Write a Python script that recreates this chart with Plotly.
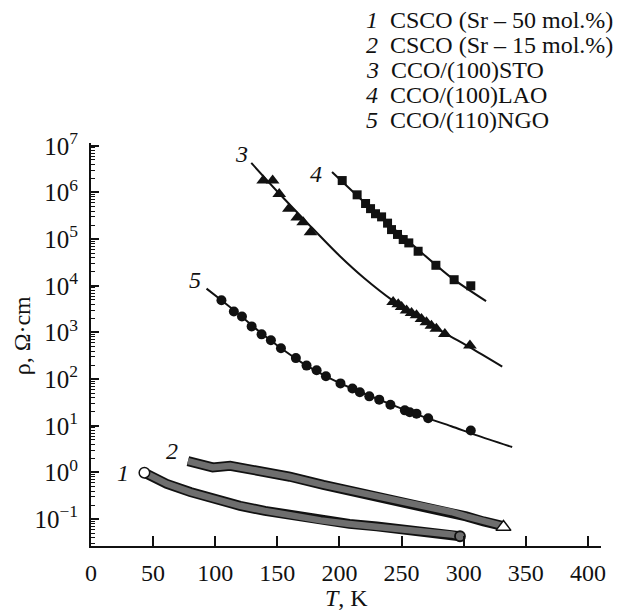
import math
import plotly.graph_objects as go

# ---------------- data ----------------
# 1: CSCO (Sr - 50 mol.%)  (dense open circles -> thick band)
T1 = [43, 61, 80, 100, 120, 140, 160, 185, 208, 230, 250, 270, 290, 297]
rho1 = [0.99, 0.57, 0.38, 0.26, 0.193, 0.15, 0.12, 0.094, 0.079, 0.070, 0.062, 0.054, 0.047, 0.043]

# 2: CSCO (Sr - 15 mol.%)  (dense open triangles -> thick band)
T2 = [78, 98, 112, 133, 160, 187, 208, 230, 250, 270, 290, 302, 316, 332]
rho2 = [1.75, 1.28, 1.39, 1.12, 0.81, 0.54, 0.41, 0.31, 0.25, 0.196, 0.142, 0.114, 0.089, 0.071]

# 3: CCO/(100)STO  (filled triangles) + fitted curve
T3 = [138.6, 146.2, 151.5, 159.3, 166, 170.8, 176.7, 243.2, 247.3, 250, 254, 258, 262, 266, 270, 274, 278, 284.8, 305]
rho3 = [1.8e6, 1.8e6, 9.3e5, 4.5e5, 2.9e5, 2.3e5, 1.4e5, 4500, 4000, 3500, 2950, 2600, 2350, 1950, 1650, 1400, 1200, 930, 525]
T3_fit = [129, 150, 175, 200, 220, 243, 265, 285, 305, 331]
rho3_fit = [4.3e6, 1.05e6, 2.1e5, 4.4e4, 1.45e4, 4800, 2000, 955, 480, 186]

# 4: CCO/(100)LAO  (filled squares) + fitted curve
T4 = [202.2, 214.2, 221, 225, 229, 233.9, 238.7, 241.9, 246.7, 251.3, 255.8, 263.3, 277.6, 292.3, 305.7]
rho4 = [1.8e6, 8.9e5, 5.8e5, 4.5e5, 3.5e5, 3.0e5, 2.2e5, 1.6e5, 1.26e5, 9.8e4, 8.3e4, 5.5e4, 2.75e4, 1.35e4, 1.0e4]
T4_fit = [194, 230, 260, 290, 318]
rho4_fit = [2.75e6, 3.5e5, 7.1e4, 1.5e4, 4.7e3]

# 5: CCO/(110)NGO  (filled circles) + fitted curve
T5 = [105, 115, 121.5, 129.3, 137.3, 144.8, 152.9, 164.9, 173.5, 181.6, 189.1, 200.8, 210.4, 216.4,
      224, 232, 241, 252.6, 256.6, 262, 271.4, 305.7]
rho5 = [4900, 2820, 2190, 1350, 910, 680, 457, 282, 195, 155, 115, 81, 63, 52.5,
        42.7, 36.3, 28.2, 21.4, 19.5, 18.2, 14.5, 7.9]
T5_fit = [93, 105, 120, 135, 150, 170, 190, 210, 230, 250, 270, 290, 310, 339]
rho5_fit = [8700, 4900, 2340, 1070, 525, 224, 112, 63, 38, 23.4, 14.8, 9.8, 6.3, 3.5]

# curve number labels (T, rho)
label_nums = ["1", "2", "3", "4", "5"]
label_T = [26, 65, 121, 181, 84]
label_rho = [0.97, 2.95, 6.6e6, 2.5e6, 1.3e4]

legend_texts = ["CSCO (Sr – 50 mol.%)", "CSCO (Sr – 15 mol.%)", "CCO/(100)STO",
                "CCO/(100)LAO", "CCO/(110)NGO"]

x_ticks = [0, 50, 100, 150, 200, 250, 300, 350, 400]
y_tick_vals = [1e-1, 1e0, 1e1, 1e2, 1e3, 1e4, 1e5, 1e6, 1e7]
y_tick_text = ["10<sup>−1</sup>", "10<sup>0</sup>", "10<sup>1</sup>", "10<sup>2</sup>", "10<sup>3</sup>",
               "10<sup>4</sup>", "10<sup>5</sup>", "10<sup>6</sup>", "10<sup>7</sup>"]

# ---------------- figure ----------------
OFF = 8                      # default page body margin
W, H = 621 - OFF, 611 - OFF
PL, PR, PT, PB = 91, 601, 142.7, 545.6   # plot box in window pixels
L, R, TOP, B = PL - OFF, W - (PR - OFF), PT - OFF, H - (PB - OFF)
FONT = "Liberation Serif, Times New Roman, serif"
INK = "#111111"
BAND = "#6e6e6e"


def px2paper(x, y):
    return (x - PL) / (PR - PL), 1 - (y - PT) / (PB - PT)


fig = go.Figure()

# thick hatched-looking bands for curves 1 and 2
for T, rho in [(T1, rho1), (T2, rho2)]:
    fig.add_trace(go.Scatter(x=T, y=rho, mode="lines",
                             line=dict(color=INK, width=10), hoverinfo="skip"))
    fig.add_trace(go.Scatter(x=T, y=rho, mode="lines",
                             line=dict(color=BAND, width=6.5), hoverinfo="skip"))

# rounded end of band 1 and open start circle of band 1
fig.add_trace(go.Scatter(x=[T1[-1]], y=[rho1[-1]], mode="markers",
                         marker=dict(symbol="circle", size=10, color=BAND,
                                     line=dict(color=INK, width=1.8))))
fig.add_trace(go.Scatter(x=[T1[0]], y=[rho1[0]], mode="markers",
                         marker=dict(symbol="circle", size=10.5, color="white",
                                     line=dict(color=INK, width=1.5))))
# open triangle at end of band 2
fig.add_trace(go.Scatter(x=[T2[-1]], y=[rho2[-1] * 0.95], mode="markers",
                         marker=dict(symbol="triangle-up", size=13, color="white",
                                     line=dict(color=INK, width=1.5))))

# fitted curves
for Tf, rf in [(T3_fit, rho3_fit), (T4_fit, rho4_fit), (T5_fit, rho5_fit)]:
    fig.add_trace(go.Scatter(x=Tf, y=rf, mode="lines",
                             line=dict(color=INK, width=2, shape="spline", smoothing=0.8),
                             hoverinfo="skip"))

# data markers
fig.add_trace(go.Scatter(x=T3, y=rho3, mode="markers",
                         marker=dict(symbol="triangle-up", size=12, color=INK, line=dict(width=0))))
fig.add_trace(go.Scatter(x=T4, y=rho4, mode="markers",
                         marker=dict(symbol="square", size=9, color=INK, line=dict(width=0))))
fig.add_trace(go.Scatter(x=T5, y=rho5, mode="markers",
                         marker=dict(symbol="circle", size=10, color=INK, line=dict(width=0))))

annotations = []
for n, t, r in zip(label_nums, label_T, label_rho):
    annotations.append(dict(x=t, y=math.log10(r), xref="x", yref="y",
                            xanchor="center", yanchor="middle",
                            text=f"<i>{n}</i>", showarrow=False, borderpad=0,
                            font=dict(family=FONT, size=24, color=INK)))

# legend as text lines
for i, txt in enumerate(legend_texts):
    xp, yp = px2paper(365, 20 + 25 * i)
    annotations.append(dict(x=xp, y=yp, xref="paper", yref="paper", xanchor="left", yanchor="middle",
                            text=f"<i>{i + 1}</i>  {txt}", showarrow=False, borderpad=0,
                            font=dict(family=FONT, size=24, color=INK)))

# axis titles
xp, yp = px2paper(346, 598)
annotations.append(dict(x=xp, y=yp, xref="paper", yref="paper", xanchor="center", yanchor="middle",
                        text="<i>T</i>, K", showarrow=False, borderpad=0,
                        font=dict(family=FONT, size=24, color=INK)))
xp, yp = px2paper(22, 336)
annotations.append(dict(x=xp, y=yp, xref="paper", yref="paper", xanchor="center", yanchor="middle",
                        text="ρ, Ω·cm", showarrow=False, textangle=-90, borderpad=0,
                        font=dict(family=FONT, size=24, color=INK)))

minor_vals = [k * 10 ** e for e in range(-2, 7) for k in range(2, 10)]

fig.update_layout(
    width=W, height=H,
    margin=dict(l=L, r=R, t=TOP, b=B, pad=0),
    paper_bgcolor="white", plot_bgcolor="white",
    showlegend=False,
    font=dict(family=FONT, size=24, color=INK),
    annotations=annotations,
    xaxis=dict(range=[0, 410.5], tickmode="array", tickvals=x_ticks,
               ticks="inside", ticklen=10, tickwidth=1.5, tickcolor=INK,
               ticklabelstandoff=4,
               showline=True, linewidth=2, linecolor=INK, showgrid=False, zeroline=False,
               tickfont=dict(family=FONT, size=24, color=INK)),
    yaxis=dict(type="log", range=[-1.576, 7.06], tickmode="array",
               tickvals=y_tick_vals, ticktext=y_tick_text,
               ticks="inside", ticklen=8, tickwidth=1.5, tickcolor=INK,
               ticklabelstandoff=6,
               minor=dict(tickmode="array", tickvals=minor_vals, ticks="inside", ticklen=4,
                          tickwidth=1, tickcolor=INK, showgrid=False),
               showline=True, linewidth=2, linecolor=INK, showgrid=False, zeroline=False,
               tickfont=dict(family=FONT, size=25, color=INK)),
)

fig.write_html("out.html")
